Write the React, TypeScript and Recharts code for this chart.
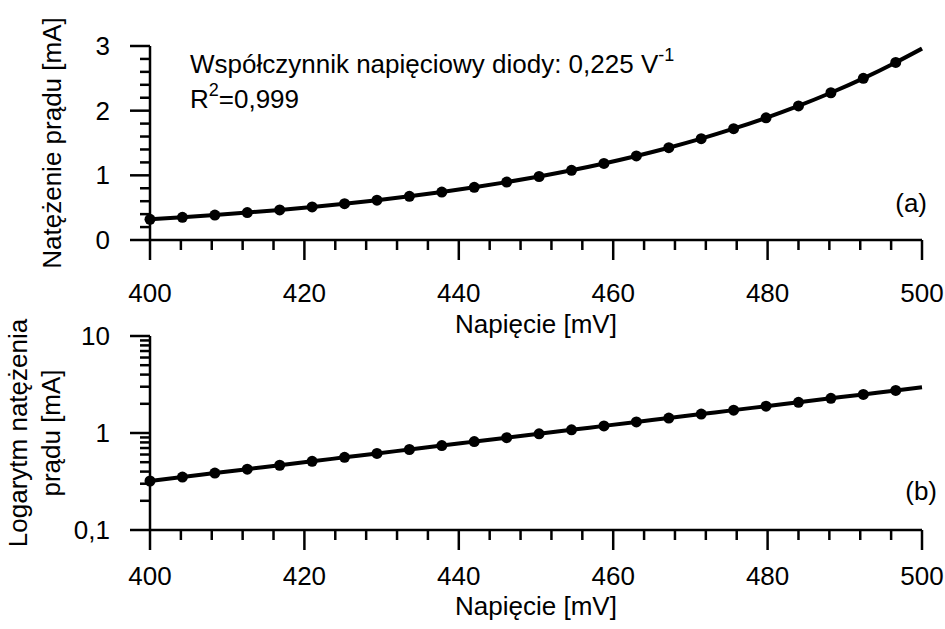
import { LineChart, Line, XAxis, YAxis, Customized } from 'recharts';

// measured points (voltage in mV, current in mA)
const voltage = [
  400, 404.2, 408.4, 412.6, 416.8, 421, 425.2, 429.4, 433.6, 437.8, 442, 446.2,
  450.4, 454.6, 458.8, 463, 467.2, 471.4, 475.6, 479.8, 484, 488.2, 492.4, 496.6,
];
const current = [
  0.32, 0.351, 0.386, 0.424, 0.465, 0.511, 0.561, 0.616, 0.676, 0.742, 0.815,
  0.895, 0.982, 1.078, 1.184, 1.3, 1.427, 1.567, 1.721, 1.889, 2.074, 2.277, 2.5,
  2.746,
];
// end of the fitted curve
const fitEndVoltage = 500;
const fitEndCurrent = 2.96;

const xTicks = [
  400, 404, 408, 412, 416, 420, 424, 428, 432, 436, 440, 444, 448, 452, 456, 460,
  464, 468, 472, 476, 480, 484, 488, 492, 496, 500,
];
const xMajor = [400, 420, 440, 460, 480, 500];
const linTicks = [
  0, 0.2, 0.4, 0.6, 0.8, 1, 1.2, 1.4, 1.6, 1.8, 2, 2.2, 2.4, 2.6, 2.8, 3,
];
const linMajor = [0, 1, 2, 3];
const logTicks = [
  0.1, 0.2, 0.3, 0.4, 0.5, 0.6, 0.7, 0.8, 0.9, 1, 2, 3, 4, 5, 6, 7, 8, 9, 10,
];
const logMajor = [0.1, 1, 10];

const points = voltage.map((v, i) => ({ v, i: current[i] }));
const fit = [...points, { v: fitEndVoltage, i: fitEndCurrent }];

const FONT = '"Liberation Sans", Arial, sans-serif';
const SW = 2.5;

const fmt = (n: number) => String(n).replace('.', ',');

const XTick = ({ x, y, payload, labelDy }: any) => {
  const major = xMajor.includes(payload.value);
  return (
    <g>
      <line x1={x} y1={y} x2={x} y2={y + (major ? 20 : 10)} stroke="#000" strokeWidth={SW} />
      {major && (
        <text x={x} y={y + labelDy} textAnchor="middle" fontSize={26} fill="#000">
          {payload.value}
        </text>
      )}
    </g>
  );
};

const YTick = ({ x, y, payload, majors }: any) => {
  const major = majors.includes(payload.value);
  return (
    <g>
      <line x1={x - (major ? 20 : 10)} y1={y} x2={x} y2={y} stroke="#000" strokeWidth={SW} />
      {major && (
        <text x={x - 40} y={y + 9} textAnchor="end" fontSize={26} fill="#000">
          {fmt(payload.value)}
        </text>
      )}
    </g>
  );
};

const TopTexts = () => (
  <g fontSize={26} fill="#000">
    <text x={190} y={73}>
      Współczynnik napięciowy diody: 0,225 V
      <tspan dy={-12} fontSize={18}>-1</tspan>
    </text>
    <text x={190} y={108}>
      R<tspan dy={-12} fontSize={18}>2</tspan>
      <tspan dy={12}>=0,999</tspan>
    </text>
    <text x={927} y={212} textAnchor="end">(a)</text>
    <text x={536} y={333} textAnchor="middle">Napięcie [mV]</text>
    <text x={61} y={143} textAnchor="middle" transform="rotate(-90 61 143)">
      Natężenie prądu [mA]
    </text>
  </g>
);

const BottomTexts = () => (
  <g fontSize={26} fill="#000">
    <text x={937} y={185} textAnchor="end">(b)</text>
    <text x={536} y={300} textAnchor="middle">Napięcie [mV]</text>
    <text x={27} y={118} textAnchor="middle" transform="rotate(-90 27 118)">
      Logarytm natężenia
    </text>
    <text x={60} y={118} textAnchor="middle" transform="rotate(-90 60 118)">
      prądu [mA]
    </text>
  </g>
);

const series = () => [
  <Line
    key="fit"
    data={fit}
    dataKey="i"
    type="monotone"
    stroke="#000"
    strokeWidth={4}
    dot={false}
    activeDot={false}
    isAnimationActive={false}
  />,
  <Line
    key="pts"
    data={points}
    dataKey="i"
    stroke="none"
    dot={{ r: 5.5, fill: '#000', stroke: '#000', strokeWidth: 0 }}
    activeDot={false}
    isAnimationActive={false}
  />,
];

export default function App() {
  return (
    <div
      style={{
        position: 'absolute',
        left: 0,
        top: 0,
        width: 945,
        height: 629,
        background: '#fff',
        fontFamily: FONT,
      }}
    >
      <div style={{ position: 'absolute', left: 0, top: 0 }}>
        <LineChart width={945} height={345} margin={{ top: 46, right: 23, bottom: 0, left: 0 }}>
          <XAxis
            type="number"
            dataKey="v"
            domain={[400, 500]}
            ticks={xTicks}
            interval={0}
            height={105}
            tickSize={0}
            tickMargin={0}
            tickLine={false}
            axisLine={{ stroke: '#000', strokeWidth: SW }}
            tick={<XTick labelDy={62} />}
          />
          <YAxis
            type="number"
            domain={[0, 3]}
            ticks={linTicks}
            interval={0}
            width={150}
            tickSize={0}
            tickMargin={0}
            tickLine={false}
            axisLine={{ stroke: '#000', strokeWidth: SW }}
            tick={<YTick majors={linMajor} />}
          />
          {series()}
          <Customized component={<TopTexts />} />
        </LineChart>
      </div>
      <div style={{ position: 'absolute', left: 0, top: 315 }}>
        <LineChart width={945} height={314} margin={{ top: 21, right: 23, bottom: 0, left: 0 }}>
          <XAxis
            type="number"
            dataKey="v"
            domain={[400, 500]}
            ticks={xTicks}
            interval={0}
            height={99}
            tickSize={0}
            tickMargin={0}
            tickLine={false}
            axisLine={{ stroke: '#000', strokeWidth: SW }}
            tick={<XTick labelDy={55} />}
          />
          <YAxis
            type="number"
            scale="log"
            domain={[0.1, 10]}
            ticks={logTicks}
            interval={0}
            width={150}
            tickSize={0}
            tickMargin={0}
            tickLine={false}
            axisLine={{ stroke: '#000', strokeWidth: SW }}
            tick={<YTick majors={logMajor} />}
          />
          {series()}
          <Customized component={<BottomTexts />} />
        </LineChart>
      </div>
    </div>
  );
}
